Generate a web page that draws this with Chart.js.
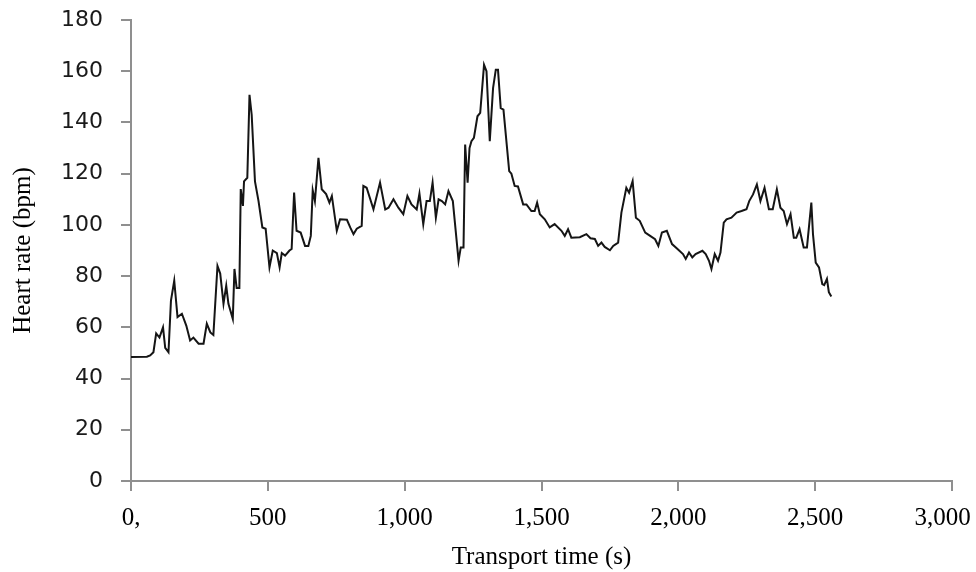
<!DOCTYPE html>
<html lang="en">
<head>
    <meta charset="UTF-8">
    <title>Heart rate during transport</title>
    <script src="https://cdn.jsdelivr.net/npm/chart.js"></script>
    <style>
        html, body { margin: 0; padding: 0; background: #fff; overflow: hidden; }
        .wrap { width: 976px; height: 572px; position: relative; }
    </style>
</head>
<body>
    <div class="wrap">
        <canvas id="hr-chart"></canvas>
    </div>

    <script>
        // transport time (s)
        const times = [
            0, 58, 70, 82, 92, 104, 117, 125, 137, 146, 158, 170, 186, 202, 216, 228, 247, 265, 277, 290,
            301, 316, 326, 338, 348, 356, 372, 378, 386, 396, 401, 409, 413, 425, 433, 441, 453, 466, 480, 492,
            506, 518, 533, 543, 551, 563, 579, 587, 596, 605, 620, 636, 648, 657, 664, 672, 685, 697, 713, 725,
            734, 752, 764, 789, 801, 813, 825, 843, 849, 861, 886, 910, 929, 941, 959, 977, 995, 1010, 1025, 1044,
            1054, 1068, 1080, 1092, 1102, 1114, 1124, 1136, 1148, 1160, 1176, 1197, 1205, 1215, 1221, 1230, 1237, 1244, 1253, 1266,
            1276, 1290, 1299, 1311, 1323, 1333, 1341, 1351, 1361, 1382, 1390, 1402, 1414, 1433, 1445, 1463, 1475, 1484, 1494, 1512,
            1530, 1548, 1573, 1585, 1597, 1609, 1640, 1664, 1679, 1695, 1707, 1719, 1731, 1750, 1762, 1780, 1792, 1810, 1820, 1833,
            1845, 1859, 1879, 1897, 1915, 1927, 1940, 1958, 1977, 1998, 2017, 2027, 2039, 2051, 2063, 2088, 2100, 2112, 2121, 2133,
            2145, 2154, 2166, 2176, 2194, 2213, 2231, 2249, 2259, 2273, 2287, 2300, 2315, 2331, 2345, 2360, 2373, 2385, 2397, 2410,
            2422, 2431, 2443, 2458, 2470, 2486, 2492, 2502, 2514, 2526, 2533, 2543, 2550, 2559
        ];

        // heart rate (bpm)
        const heartRate = [
            48.4, 48.5, 49, 50.3, 57.6, 56, 60, 52, 50.3, 70.4, 78.2, 64, 65.3, 60.7, 54.9, 56, 53.6, 53.6, 61.4, 58,
            57, 84, 81, 69.2, 76.3, 69.2, 63.3, 82.8, 75.4, 75.4, 114, 107.4, 117, 118.4, 150.8, 143, 117, 109.3, 99, 98.5,
            83.4, 90, 89, 83.4, 89, 88, 90, 90.6, 112.6, 97.7, 97, 91.8, 91.8, 95.7, 113.5, 109.3, 126.2, 113.9, 112, 108.7,
            111.3, 97.7, 102.2, 102, 99, 96.4, 98.5, 99.6, 115.2, 114.5, 106.1, 116.5, 106, 106.7, 110, 106.7, 104.2, 111.3, 108, 106,
            112.2, 100.3, 109.3, 109.3, 116.5, 102.8, 110, 109.3, 108, 113.2, 109.3, 86, 91.2, 91.2, 131.4, 116.5, 130, 132.7, 134, 142.4,
            143.7, 162.5, 160, 132.7, 153.4, 160.6, 160.6, 145.6, 145, 121, 120, 115.2, 115, 108, 108, 105.4, 105.4, 108.7, 104.2, 102.2,
            99, 100.3, 97.7, 95.7, 98.3, 95, 95.2, 96.4, 94.8, 94.5, 91.8, 93.1, 91.4, 90.1, 91.8, 93.1, 104.8, 114.5, 112.6, 117.1,
            102.8, 101.6, 97, 95.7, 94.4, 91.8, 97, 97.7, 92.5, 90.5, 88.6, 86.7, 89.2, 87.3, 88.6, 89.9, 88.6, 86, 82.8, 88.6,
            86, 89.2, 100.9, 102.2, 102.8, 104.8, 105.4, 106.1, 109.3, 111.9, 115.8, 109.3, 114.5, 106.1, 106.1, 113.9, 106.7, 105.4, 100.3, 104.2,
            95, 95, 98.3, 91.2, 91.2, 108.7, 96.4, 85.3, 83.4, 76.9, 76.5, 78.9, 73.7, 72
        ];

        const xTickLabels = ['0,', '500', '1,000', '1,500', '2,000', '2,500', '3,000'];
        const yTickLabels = ['0', '20', '40', '60', '80', '100', '120', '140', '160', '180'];

        const axisColor = '#8f8f8f';
        const serif = '"Liberation Serif", "Times New Roman", serif';

        const points = times.map((t, i) => ({ x: t, y: heartRate[i] }));

        const ctx = document.getElementById('hr-chart').getContext('2d');
        new Chart(ctx, {
            type: 'line',
            data: {
                datasets: [{
                    data: points,
                    borderColor: '#151515',
                    borderWidth: 2,
                    pointRadius: 0,
                    tension: 0,
                    fill: false
                }]
            },
            options: {
                responsive: true,
                maintainAspectRatio: false,
                animation: false,
                layout: { padding: { top: 20, right: 24, bottom: 0, left: 0 } },
                plugins: {
                    legend: { display: false },
                    tooltip: { enabled: false }
                },
                scales: {
                    x: {
                        type: 'linear',
                        min: 0,
                        max: 3000,
                        border: { color: axisColor, width: 2 },
                        grid: { drawOnChartArea: false, drawTicks: true, tickLength: 10, color: axisColor, lineWidth: 2 },
                        ticks: {
                            stepSize: 500,
                            maxRotation: 0,
                            autoSkip: false,
                            padding: 12,
                            color: '#000',
                            font: { family: serif, size: 25 },
                            // last label nudged left with trailing spaces, as in the original
                            callback: (value, index) => index === xTickLabels.length - 1
                                ? xTickLabels[index] + '   '
                                : xTickLabels[index]
                        },
                        title: {
                            display: true,
                            text: 'Transport time (s)',
                            color: '#000',
                            font: { family: serif, size: 25 },
                            padding: { top: 0, bottom: 0 }
                        },
                        afterFit: (scale) => {
                            scale.height = 91;
                            scale.paddingLeft = 0;
                            scale.paddingRight = 0;
                        }
                    },
                    y: {
                        min: 0,
                        max: 180,
                        border: { color: axisColor, width: 2 },
                        grid: { drawOnChartArea: false, drawTicks: true, tickLength: 10, color: axisColor, lineWidth: 2 },
                        ticks: {
                            stepSize: 20,
                            padding: 18,
                            color: '#1a1a1a',
                            font: { family: '"DejaVu Sans", Verdana, sans-serif', size: 22 },
                            callback: (value, index) => yTickLabels[index]
                        },
                        title: {
                            display: true,
                            text: 'Heart rate (bpm)',
                            color: '#000',
                            font: { family: serif, size: 25 },
                            padding: { top: 8, bottom: 0 }
                        },
                        afterFit: (scale) => {
                            scale.width = 131;
                            scale.paddingTop = 0;
                            scale.paddingBottom = 0;
                        }
                    }
                }
            }
        });
    </script>
</body>
</html>
